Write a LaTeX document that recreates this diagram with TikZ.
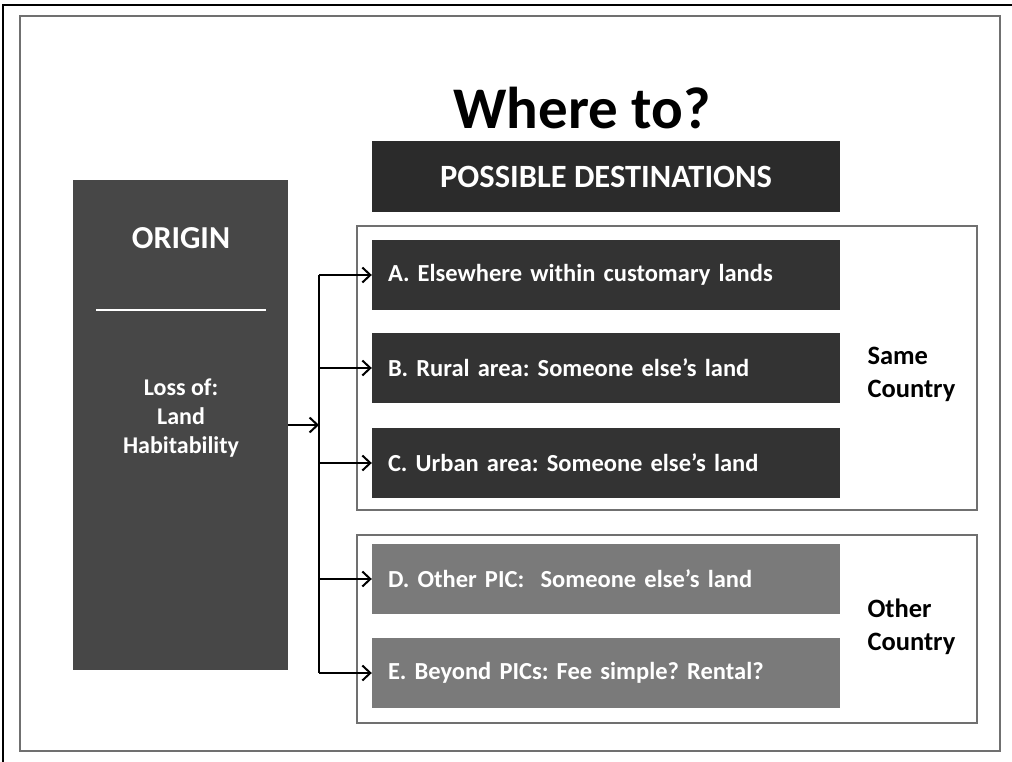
\documentclass[tikz,border=0pt]{standalone}
\usepackage{fontspec}
\setmainfont{Carlito}
\frenchspacing
\usetikzlibrary{arrows.meta,positioning}

\definecolor{darkbox}{HTML}{2B2B2B}
\definecolor{itembox}{HTML}{333333}
\definecolor{originbox}{HTML}{474747}
\definecolor{otherbox}{HTML}{7A7A7A}
\definecolor{framegray}{HTML}{707070}

\tikzset{
  destbox/.style={rectangle, fill=itembox, text=white, font=\bfseries\fontsize{24.5}{28}\selectfont,
    minimum height=70pt, text width=436pt, inner xsep=16pt, inner ysep=0pt, align=left},
  groupframe/.style={rectangle, draw=framegray, line width=2pt, minimum width=620pt},
  grouplabel/.style={font=\bfseries\fontsize{26.5}{33}\selectfont, align=left, anchor=west},
  branch/.style={line width=2pt, -{Straight Barb[length=8pt,width=15pt,line width=2pt]}}
}

\begin{document}
\begin{tikzpicture}[x=1pt,y=-1pt]
\useasboundingbox (0,0) rectangle (1012,762);
\clip (0,0) rectangle (1012,762);

% page frames
\draw[black, line width=2pt] (3,780) -- (3,5) -- (1030,5);
\draw[framegray, line width=2pt] (20,16) rectangle (1000,751);

\node[font=\bfseries\fontsize{59}{64}\selectfont] (title) at (582,108) {Where to?};

\node[rectangle, fill=darkbox, text=white, minimum width=468pt, minimum height=71pt,
  font=\bfseries\fontsize{32.5}{36}\selectfont] (dest) at (606,177) {POSSIBLE DESTINATIONS};

% group frames
\node[groupframe, minimum height=284pt] (same) at (667,368) {};
\node[groupframe, minimum height=188pt] (other) at (667,629) {};
\node[grouplabel] (samelbl) at (864,374) {Same\\Country};
\node[grouplabel] (otherlbl) at (864,627) {Other\\Country};

% destinations
\node[destbox] (a) at (606,275) {A. Elsewhere within customary lands};
\node[destbox] (b) at (606,368) {B. Rural area: Someone else’s land};
\node[destbox] (c) at (606,463) {C. Urban area: Someone else’s land};
\node[destbox, fill=otherbox] (d) at (606,579) {D. Other PIC:\ \ Someone else’s land};
\node[destbox, fill=otherbox] (e) at (606,673) {E. Beyond PICs: Fee simple? Rental?};

% origin
\node[rectangle, fill=originbox, minimum width=215pt, minimum height=490pt] (origin) at (180.5,425) {};
\node[text=white, font=\bfseries\fontsize{32}{34}\selectfont] (origtitle) at (181,238) {ORIGIN};
\draw[white, line width=1.5pt] (96,310) -- (266,310);
\node[text=white, align=center, font=\bfseries\fontsize{24}{29}\selectfont] (loss) at (181,418)
  {Loss of:\\Land\\Habitability};

% connectors
\coordinate (trunk) at (319,425);
\draw[line width=2pt] (a.west -| trunk) -- (e.west -| trunk);
\draw[branch] (origin.east) -- (trunk);
\foreach \n in {a,b,c,d,e}
  \draw[branch] (\n.west -| trunk) -- (\n.west);

\end{tikzpicture}
\end{document}
